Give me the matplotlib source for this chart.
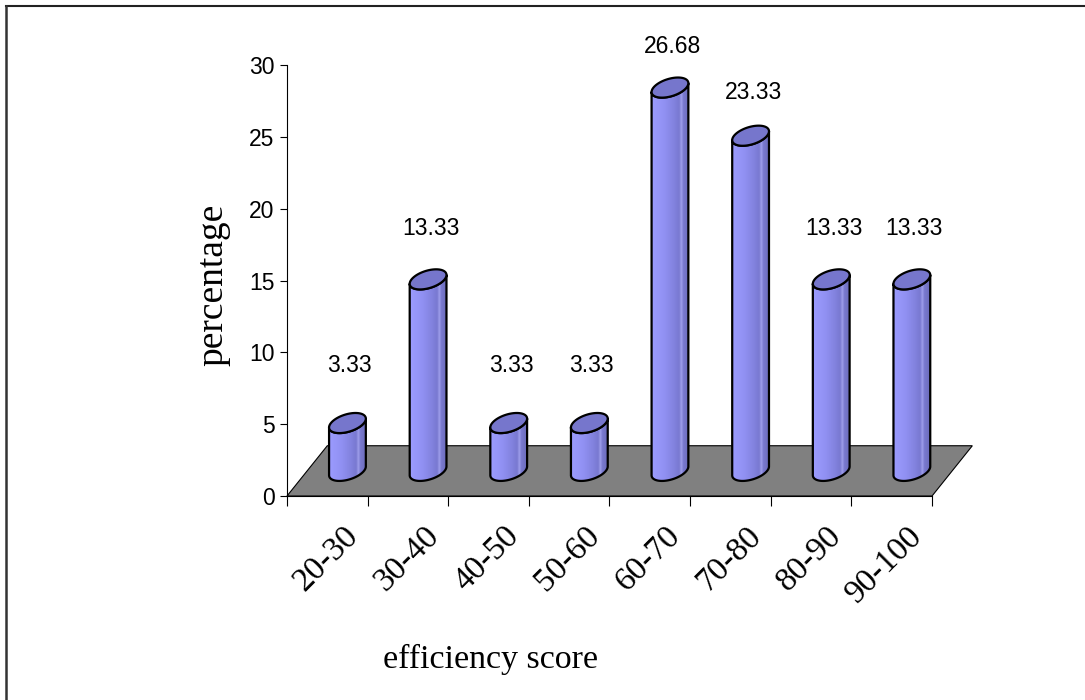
import numpy as np
import matplotlib.pyplot as plt
from matplotlib.patches import Polygon
from matplotlib.lines import Line2D
from matplotlib.colors import LinearSegmentedColormap
from matplotlib.transforms import ScaledTranslation

plt.rcParams['font.family'] = ['Liberation Sans', 'DejaVu Sans']

categories = ['20-30', '30-40', '40-50', '50-60', '60-70', '70-80', '80-90', '90-100']
percentages = [3.33, 13.33, 3.33, 3.33, 26.68, 23.33, 13.33, 13.33]
yticks = [0, 5, 10, 15, 20, 25, 30]

# oblique depth of the floor in data units (x = categories, y = percent)
depth_x, depth_y = 0.5, 3.5
radius = 0.205      # cylinder radius along x
ring = 0.2          # cylinder depth as a share of the floor depth

body_cmap = LinearSegmentedColormap.from_list('cyl', [
    (0.0, '#9c9cff'), (0.35, '#9090f2'), (0.6, '#8282de'),
    (0.74, '#7878d0'), (0.8, '#a4a4ee'), (0.84, '#7a7ad0'),
    (1.0, '#6c6cba')])

fig = plt.figure(figsize=(10.85, 7), dpi=100)
ax = fig.add_axes([0.2645, 0.2914, 0.5945, 0.6157])
n = len(categories)

# grey floor
floor = Polygon([(0, 0), (n, 0), (n + depth_x, depth_y), (depth_x, depth_y)],
                closed=True, fc='#808080', ec='black', lw=0.8,
                clip_on=False, zorder=1)
ax.add_patch(floor)

theta0 = np.arctan2(ring * depth_x, radius)
front = np.linspace(theta0, theta0 - np.pi, 60)
full = np.linspace(0, 2 * np.pi, 120)
gradient = np.linspace(0, 1, 256).reshape(1, -1)


def ellipse(cx, cy, t):
    return np.column_stack([cx + radius * np.cos(t) + ring * depth_x * np.sin(t),
                            cy + ring * depth_y * np.sin(t)])


for i, v in enumerate(percentages):
    cx = i + 0.5 + depth_x / 2
    y0 = depth_y / 2
    y1 = y0 + v
    half_w = np.hypot(radius, ring * depth_x)
    body_pts = np.vstack([ellipse(cx, y0, front), ellipse(cx, y1, front[::-1])])
    body = Polygon(body_pts, closed=True, fc='none', ec='black', lw=1.6,
                   zorder=3, joinstyle='round')
    ax.add_patch(body)
    img = ax.imshow(gradient, cmap=body_cmap, aspect='auto',
                    extent=[cx - half_w, cx + half_w, y0 - ring * depth_y, y1 + ring * depth_y],
                    interpolation='bicubic', zorder=2)
    img.set_clip_path(body)
    top = Polygon(ellipse(cx, y1, full), closed=True, fc='#7676cc', ec='black',
                  lw=1.6, zorder=4)
    ax.add_patch(top)
    ax.text(cx + 0.03, 0.95 * v + 5.95, f'{v:.2f}', ha='center', va='center',
            fontsize=16.5, zorder=5)

ax.set_xlim(0, n)
ax.set_ylim(0, 30)
ax.spines['top'].set_visible(False)
ax.spines['right'].set_visible(False)
ax.spines['left'].set_linewidth(0.8)
ax.spines['bottom'].set_linewidth(0.8)
ax.patch.set_visible(False)

ax.set_yticks(yticks)
ax.tick_params(axis='y', length=5, width=0.8, pad=4, labelsize=16.5)

ax.set_xticks(range(n + 1))
ax.set_xticklabels([])
ax.tick_params(axis='x', which='major', length=7.5, width=0.8)
ax.set_xticks(np.arange(n) + 0.5, minor=True)
ax.set_xticklabels(categories, minor=True, family='Liberation Serif', fontsize=24)
ax.tick_params(axis='x', which='minor', length=0, pad=25.5)
shift = ScaledTranslation(26 / 100, 0, fig.dpi_scale_trans)
for lab in ax.get_xticklabels(minor=True):
    lab.set_rotation(45)
    lab.set_rotation_mode('anchor')
    lab.set_ha('right')
    lab.set_va('center')
    lab.set_transform(lab.get_transform() + shift)

ax.set_ylabel('percentage', family='Liberation Serif', fontsize=27)
ax.yaxis.set_label_coords(-0.115, 0.49)
ax.yaxis.label.set_va('center')
ax.set_xlabel('efficiency score', family='Liberation Serif', fontsize=24.5)
ax.xaxis.set_label_coords(0.316, -0.38)
ax.xaxis.label.set_va('center')

# chart frame, open on the right and bottom
fig.add_artist(Line2D([6 / 1085, 1], [1 - 6 / 700, 1 - 6 / 700],
                      transform=fig.transFigure, color='#222222', lw=1.5))
fig.add_artist(Line2D([6 / 1085, 6 / 1085], [0, 1 - 6 / 700],
                      transform=fig.transFigure, color='#333333', lw=1.8))

fig.savefig('out.png', dpi=100)
